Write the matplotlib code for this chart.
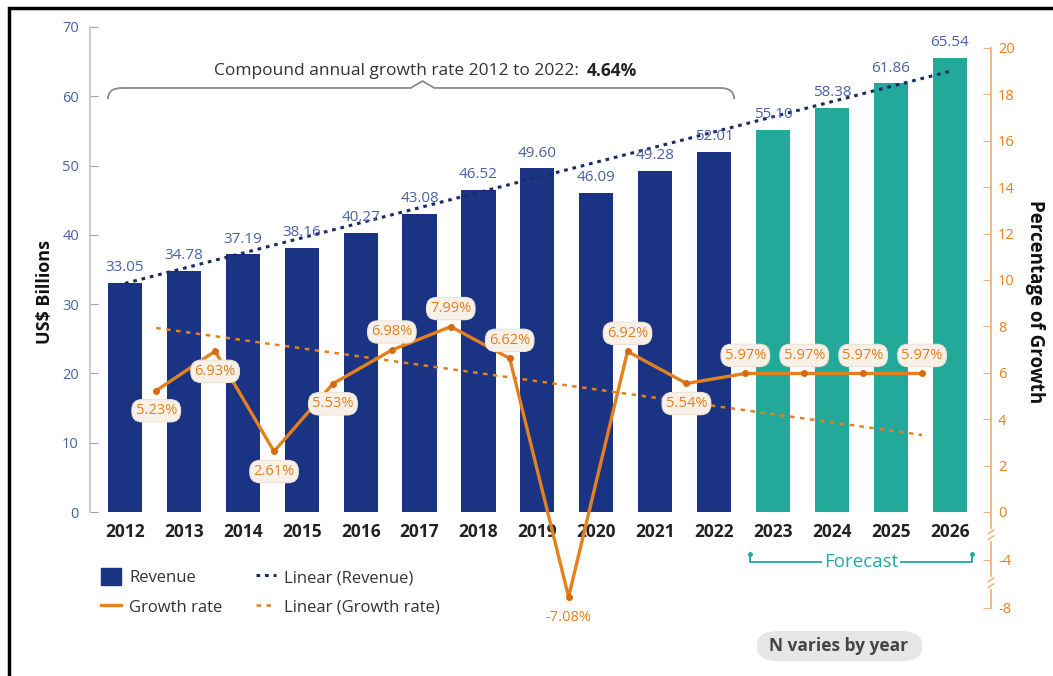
import numpy as np
import matplotlib
matplotlib.use('Agg')
import matplotlib.pyplot as plt
from matplotlib.patches import Patch, Rectangle, FancyBboxPatch
from matplotlib.lines import Line2D
from matplotlib.path import Path
from matplotlib.patches import PathPatch
import matplotlib.transforms as mtransforms

plt.rcParams['font.family'] = ['Open Sans', 'DejaVu Sans']
plt.rcParams['axes.unicode_minus'] = False

# ---------------- data ----------------
years = ['2012', '2013', '2014', '2015', '2016', '2017', '2018', '2019',
         '2020', '2021', '2022', '2023', '2024', '2025', '2026']
revenue = [33.05, 34.78, 37.19, 38.16, 40.27, 43.08, 46.52, 49.60,
           46.09, 49.28, 52.01, 55.10, 58.38, 61.86, 65.54]
n_actual = 11   # 2012-2022 actual, rest forecast
growth = [5.23, 6.93, 2.61, 5.53, 6.98, 7.99, 6.62, -7.08,
          6.92, 5.54, 5.97, 5.97, 5.97, 5.97]
revenue_trend = [33.0, 63.6]      # linear (revenue), read at 2012 and 2026
growth_trend = [7.93, 3.32]       # linear (growth rate), first and last growth point
cagr_text = 'Compound annual growth rate 2012 to 2022:'
cagr_value = '4.64%'

NAVY = '#1a3383'
TEAL = '#22a99a'
ORANGE = '#e5801e'
BLUE_TXT = '#4a62a4'

W, H = 1053, 676
fig = plt.figure(figsize=(W / 100, H / 100), dpi=100)

# axes: x from 90 to 991 px, y from 27 to 615 px
ax = fig.add_axes([90 / W, 1 - 615 / H, (991 - 90) / W, (615 - 27) / H])
ax2 = ax.twinx()

x = np.arange(len(years))
colors = [NAVY] * n_actual + [TEAL] * (len(years) - n_actual)
ax.bar(x, revenue, width=0.58, color=colors, zorder=1)
ax.set_xlim(-0.594, 14.70)
ax.set_ylim(-14.86, 70)

for i, v in enumerate(revenue):
    ax.annotate('%.2f' % v, (i, v), xytext=(0, 11), textcoords='offset points',
                ha='center', va='center', fontsize=11, color=BLUE_TXT, zorder=6)

for i, y in enumerate(years):
    ax.text(i, -2.9, y, ha='center', va='center', fontsize=12.5,
            fontweight='bold', color='#222222')

# revenue trend
ax.plot([x[0], x[-1]], revenue_trend, color='#1a2a6a', lw=2.2,
        linestyle=(0, (1.2, 1.6)), zorder=4)

# left axis
ax.spines['top'].set_visible(False)
ax.spines['bottom'].set_visible(False)
ax.spines['right'].set_visible(False)
ax.spines['left'].set_bounds(0, 70)
ax.spines['left'].set_color('#c5c8d4')
ax.spines['left'].set_linewidth(1.3)
ax.set_yticks(np.arange(0, 71, 10))
ax.tick_params(axis='y', direction='in', length=6, color='#9aa2c0',
               labelcolor=BLUE_TXT, labelsize=10.5, pad=8)
ax.set_xticks([])


# right axis: compressed negative part
def fwd(v):
    v = np.asarray(v, dtype=float)
    return np.where(v < 0, v * 0.517, v)


def inv(v):
    v = np.asarray(v, dtype=float)
    return np.where(v < 0, v / 0.517, v)


ax2.set_yscale('function', functions=(fwd, inv))
ax2.set_ylim(-8.59, 20.905)
for s in ['top', 'bottom', 'left']:
    ax2.spines[s].set_visible(False)
ax2.spines['right'].set_bounds(-8, 20)
ax2.spines['right'].set_color('#f0b47a')
ax2.spines['right'].set_linewidth(1.3)
ax2.set_yticks([-8, -4, 0, 2, 4, 6, 8, 10, 12, 14, 16, 18, 20])
ax2.tick_params(axis='y', direction='in', length=6, color='#f0b47a',
                labelcolor=ORANGE, labelsize=10.5, pad=5)

gx = x[:-1] + 0.53
ax2.plot(gx, growth, color=ORANGE, lw=2.4, marker='o', markersize=4,
         markerfacecolor='#d86a10', markeredgecolor='#d86a10', zorder=5,
         clip_on=False)
ax2.plot([gx[0], gx[-1]], growth_trend, color=ORANGE, lw=1.8,
         linestyle=(0, (1.8, 2.2)), zorder=4)

below = [True, True, True, True, False, False, False, True,
         False, True, False, False, False, False]
for i, g in enumerate(growth):
    dy = -14.5 if below[i] else 13
    if g < 0:
        bbox = None
    else:
        bbox = dict(boxstyle='round,pad=0.25,rounding_size=0.7',
                    fc='#f9f1e7', ec='#efe3d6', lw=0.8)
    ax2.annotate('%.2f%%' % g, (gx[i], g), xytext=(0, dy),
                 textcoords='offset points', ha='center', va='center',
                 fontsize=10.5, color=ORANGE, bbox=bbox, zorder=7)

# axis breaks on right spine
trans = mtransforms.blended_transform_factory(ax2.transAxes, ax2.transData)
for yb in [-1.9, -5.9]:
    ax2.plot([1, 1], [yb - 0.35, yb + 0.35], color='white', lw=3,
             transform=trans, clip_on=False, zorder=8)
    for d in [-0.25, 0.25]:
        ax2.plot([1 - 0.003, 1 + 0.003], [yb + d - 0.15, yb + d + 0.15],
                 color='#f0b47a', lw=1.1, transform=trans, clip_on=False,
                 zorder=9)

# CAGR brace
verts = [(-0.29, 59.6), (-0.29, 61.2), (-0.05, 61.2),
         (4.85, 61.2), (5.05, 62.2), (5.25, 61.2),
         (10.1, 61.2), (10.34, 61.2), (10.34, 59.6)]
codes = [Path.MOVETO, Path.CURVE3, Path.CURVE3,
         Path.LINETO, Path.LINETO, Path.LINETO,
         Path.LINETO, Path.CURVE3, Path.CURVE3]
ax.add_patch(PathPatch(Path(verts, codes), fc='none', ec='#8a8a8a', lw=1.3,
                       clip_on=False))
ax.text(7.70, 63.7, cagr_text, ha='right', va='center', fontsize=12.5,
        color='#333333')
ax.text(7.83, 63.7, cagr_value, ha='left', va='center', fontsize=12.5,
        color='#222222', fontweight='bold')

# forecast bracket
fy = -(562 - 512) / 6.929
fy2 = -(554 - 512) / 6.929
xl, xr = (750 - 125) / 58.93, (972 - 125) / 58.93
ax.plot([xl, xl, xr, xr], [fy2, fy, fy, fy2], color=TEAL, lw=1.3,
        clip_on=False)
ax.plot([xl, xr], [fy2, fy2], 'o', color=TEAL, markersize=2.5, clip_on=False)
ax.text((xl + xr) / 2, fy, 'Forecast', ha='center', va='center', fontsize=13.5,
        color=TEAL, bbox=dict(fc='white', ec='none', pad=1.5))

# legend
handles = [Patch(color=NAVY),
           Line2D([], [], color=ORANGE, lw=2.4),
           Line2D([], [], color='#1a2a6a', lw=2.2, linestyle=(0, (1.2, 1.6))),
           Line2D([], [], color=ORANGE, lw=1.8, linestyle=(0, (1.8, 2.2)))]
labels = ['Revenue', 'Growth rate', 'Linear (Revenue)', 'Linear (Growth rate)']
fig.legend(handles, labels, ncol=2, frameon=False, loc='upper left',
           bbox_to_anchor=(86 / W, 1 - 553 / H), fontsize=12,
           handlelength=1.2, handleheight=1.2, columnspacing=2.0,
           labelspacing=0.7, handletextpad=0.5, labelcolor='#333333')

# axis titles
fig.text(45 / W, 1 - 292 / H, 'US$ Billions', rotation=90, ha='center',
         va='center', fontsize=13, fontweight='bold', color='#111111')
fig.text(1035 / W, 1 - 302 / H, 'Percentage of Growth', rotation=270,
         ha='center', va='center', fontsize=13.5, fontweight='bold',
         color='#111111')

# N note
fig.add_artist(FancyBboxPatch((757 / W, 1 - 661 / H), 165 / W, 30 / H,
                              boxstyle='round,pad=0,rounding_size=0.02',
                              transform=fig.transFigure, fc='#e6e6e6',
                              ec='none'))
fig.text(839 / W, 1 - 646 / H, 'N varies by year', ha='center', va='center',
         fontsize=12.5, fontweight='bold', color='#444444')

# frame
fig.add_artist(Rectangle((9 / W, -0.05), 1.2, 1 - 8 / H + 0.05,
                         transform=fig.transFigure, fill=False, ec='black',
                         lw=2.5))

fig.savefig('out.png', dpi=100)
